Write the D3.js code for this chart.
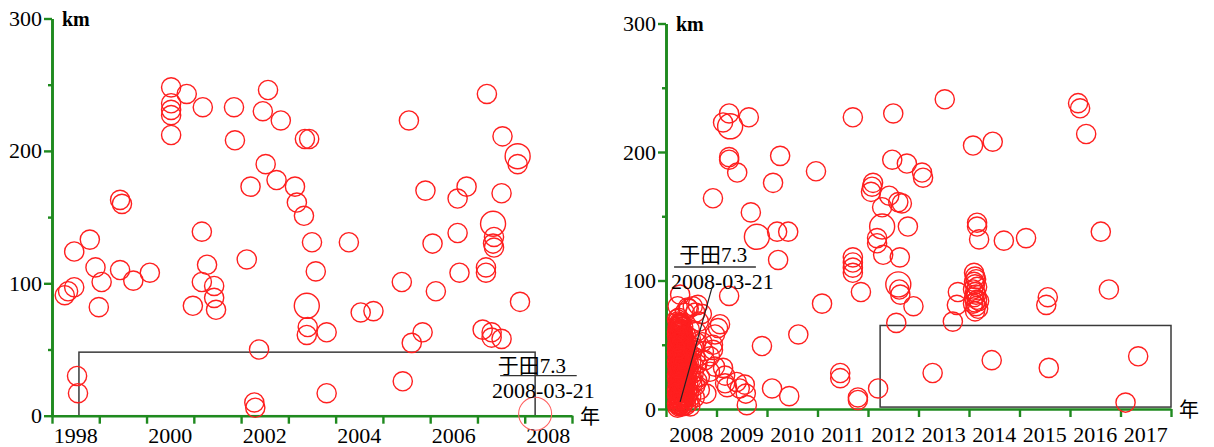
<!DOCTYPE html>
<html>
<head>
<meta charset="utf-8">
<script src="https://cdn.jsdelivr.net/npm/d3@7"></script>
<style>
  html, body { margin: 0; background: #fff; }
  svg { display: block; }
</style>
</head>
<body>
<svg id="chart" width="1214" height="447"></svg>
<script>
// ---- data -------------------------------------------------------------
// Depth axis (km)
const depthMajor = [0, 100, 200, 300];
const depthMinor = [50, 150, 250];

// Year ticks and labels
const leftTickYears  = [1998, 1999, 2000, 2001, 2002, 2003, 2004, 2005, 2006, 2007, 2008, 2009];
const leftLabelYears = [1998, 2000, 2002, 2004, 2006, 2008];
const rightTickYears  = [2008, 2009, 2010, 2011, 2012, 2013, 2014, 2015, 2016, 2017, 2018];
const rightLabelYears = [2008, 2009, 2010, 2011, 2012, 2013, 2014, 2015, 2016, 2017];

// Earthquakes 1998–2008: [decimal year, depth km, size class]
const leftQuakes = [
  [1998.27, 91, 1], [1998.34, 94, 1], [1998.47, 97, 1], [1998.47, 124, 1], [1998.80, 133, 1],
  [1998.92, 112, 1], [1999.05, 101, 1], [1998.99, 82, 1], [1999.44, 110, 1], [1999.44, 163, 1],
  [1999.48, 160, 1], [1999.72, 102, 1], [2000.07, 108, 1], [2000.52, 248, 1], [2000.52, 236, 1],
  [2000.52, 231, 1], [2000.52, 227, 1], [2000.52, 212, 1], [2000.85, 243, 1], [2001.19, 233, 1],
  [2001.85, 233, 1], [2001.87, 208, 1], [2001.17, 139, 1], [2001.28, 114, 1], [2001.17, 101, 1],
  [2001.43, 98, 1], [2001.43, 89, 1], [2001.47, 80, 1], [2000.98, 83, 1], [2002.12, 118, 1],
  [2002.38, 50, 1], [1998.53, 30, 1], [1998.55, 17, 1], [2002.28, 10, 1], [2002.30, 6, 1],
  [2002.46, 230, 1], [2002.57, 246, 1], [2002.84, 223, 1], [2003.35, 209, 1], [2003.44, 209, 1],
  [2002.52, 190, 1], [2002.75, 178, 1], [2002.20, 173, 1], [2003.14, 173, 1], [2003.18, 161, 1],
  [2003.33, 151, 1], [2003.50, 131, 1], [2004.28, 131, 1], [2003.58, 109, 1], [2003.39, 83, 2],
  [2003.41, 67, 1], [2003.39, 61, 1], [2003.81, 63, 1], [2004.53, 78, 1], [2004.80, 79, 1],
  [2003.81, 17, 1], [2005.42, 26, 1], [2005.40, 101, 1], [2005.61, 55, 1], [2005.84, 63, 1],
  [2005.55, 223, 1], [2005.90, 170, 1], [2006.05, 130, 1], [2006.12, 94, 1], [2006.58, 164, 1],
  [2006.77, 173, 1], [2006.58, 138, 1], [2006.62, 108, 1], [2007.20, 243, 1], [2007.53, 211, 1],
  [2007.85, 196, 2], [2007.85, 190, 1], [2007.51, 168, 1], [2007.33, 145, 2], [2007.35, 135, 1],
  [2007.33, 130, 1], [2007.35, 127, 1], [2007.18, 112, 1], [2007.18, 108, 1], [2007.90, 86, 1],
  [2007.11, 65, 1], [2007.30, 63, 1], [2007.51, 58, 1], [2007.30, 59, 1]
];
// Yutian M7.3 main shock, 2008-03-21
const mainShock = [2008.22, 1.5, 3];

// Earthquakes 2008–2017 away from the aftershock zone
const rightQuakes = [
  [2009.13, 223, 1], [2009.27, 220, 2], [2009.25, 230, 1], [2009.64, 227, 1], [2011.70, 227, 1],
  [2012.50, 230, 1], [2009.25, 196, 1], [2009.25, 194, 1], [2009.41, 184, 1], [2010.26, 197, 1],
  [2010.97, 185, 1], [2010.12, 176, 1], [2008.93, 164, 1], [2009.68, 153, 1], [2012.48, 194, 1],
  [2012.77, 191, 1], [2012.10, 176, 1], [2012.08, 173, 1], [2012.06, 169, 1], [2012.42, 166, 1],
  [2012.60, 161, 1], [2012.28, 157, 1], [2012.28, 142, 2], [2012.79, 142, 1], [2012.18, 133, 1],
  [2012.18, 129, 1], [2012.30, 120, 1], [2012.63, 118, 1], [2011.70, 118, 1], [2011.70, 114, 1],
  [2011.70, 110, 1], [2011.70, 106, 1], [2011.86, 91, 1], [2012.60, 97, 2], [2012.62, 93, 1],
  [2012.64, 89, 1], [2012.90, 80, 1], [2012.56, 67, 1], [2013.07, 184, 1], [2013.09, 180, 1],
  [2012.67, 160, 1], [2013.52, 241, 1], [2016.16, 238, 1], [2016.20, 234, 1], [2016.32, 214, 1],
  [2014.08, 205, 1], [2014.47, 208, 1], [2014.16, 145, 1], [2014.16, 142, 1], [2014.20, 132, 1],
  [2014.69, 131, 1], [2015.13, 133, 1], [2016.61, 138, 1], [2015.56, 87, 1], [2015.53, 81, 1],
  [2016.77, 93, 1], [2013.28, 28, 1], [2014.45, 38, 1], [2015.58, 32, 1], [2017.35, 41, 1],
  [2017.10, 5, 1], [2012.20, 16, 1], [2009.80, 134, 2], [2010.20, 138, 1], [2010.42, 138, 1],
  [2010.22, 116, 1], [2011.09, 82, 1], [2009.25, 88, 1], [2010.62, 58, 1], [2009.90, 49, 1],
  [2011.45, 28, 1], [2011.45, 24, 1], [2010.10, 16, 1], [2010.44, 10, 1], [2011.80, 9, 1],
  [2011.80, 7, 1],
  // 2013–2014 swarm
  [2014.10, 106, 1], [2014.12, 103, 1], [2014.14, 101, 1], [2014.10, 99, 1], [2014.12, 97, 1],
  [2014.16, 95, 1], [2014.08, 93, 1], [2014.12, 91, 1], [2014.14, 89, 1], [2014.10, 87, 1],
  [2014.16, 85, 1], [2014.12, 83, 1], [2014.08, 82, 1], [2014.14, 80, 1], [2014.18, 78, 1],
  [2014.12, 76, 1], [2014.20, 84, 1], [2013.78, 91, 1], [2013.76, 81, 1], [2013.68, 68, 1],
  // shallow events in 2009
  [2009.17, 26, 1], [2009.17, 20, 1], [2009.56, 19, 1], [2009.58, 12, 1], [2009.60, 3, 1],
  [2009.46, 16, 1], [2009.40, 21, 1]
];

// Yutian aftershock sequence, 2008
const aftershocks = [
  [2008.22, 4], [2008.23, 9], [2008.22, 15], [2008.24, 21], [2008.22, 27], [2008.23, 33],
  [2008.22, 38], [2008.24, 45], [2008.23, 51], [2008.22, 57], [2008.24, 63], [2008.23, 68],
  [2008.26, 2], [2008.27, 7], [2008.25, 12], [2008.27, 18], [2008.26, 24], [2008.28, 30],
  [2008.26, 36], [2008.27, 41], [2008.25, 47], [2008.28, 53], [2008.26, 59], [2008.27, 65],
  [2008.25, 71], [2008.29, 5], [2008.31, 10], [2008.30, 16], [2008.29, 22], [2008.31, 27],
  [2008.30, 33], [2008.29, 39], [2008.31, 44], [2008.30, 50], [2008.29, 56], [2008.31, 61],
  [2008.30, 67], [2008.33, 3], [2008.34, 8], [2008.33, 14], [2008.35, 19], [2008.33, 25],
  [2008.34, 31], [2008.35, 36], [2008.33, 42], [2008.34, 48], [2008.35, 54], [2008.33, 60],
  [2008.37, 6], [2008.38, 12], [2008.36, 17], [2008.38, 23], [2008.37, 29], [2008.39, 34],
  [2008.37, 40], [2008.38, 46], [2008.36, 52], [2008.39, 58], [2008.41, 9], [2008.42, 15],
  [2008.40, 21], [2008.42, 27], [2008.41, 33], [2008.43, 39], [2008.41, 45], [2008.42, 51],
  [2008.45, 5], [2008.46, 13], [2008.44, 20], [2008.47, 28], [2008.45, 36], [2008.46, 44],
  [2008.24, 6], [2008.28, 13], [2008.32, 20], [2008.25, 26], [2008.29, 35], [2008.23, 42],
  [2008.32, 47], [2008.26, 54], [2008.30, 58], [2008.24, 61], [2008.28, 66], [2008.34, 64],
  [2008.27, 3], [2008.36, 26], [2008.31, 38], [2008.40, 3], [2008.44, 31], [2008.39, 50],
  [2008.22, 49], [2008.35, 11],
  [2008.23, 1], [2008.25, 8], [2008.22, 11], [2008.26, 15], [2008.23, 19], [2008.25, 23],
  [2008.22, 24], [2008.24, 29], [2008.23, 30], [2008.25, 34], [2008.22, 35], [2008.24, 39],
  [2008.26, 43], [2008.22, 44], [2008.25, 50], [2008.23, 54], [2008.24, 56], [2008.22, 60],
  [2008.26, 62], [2008.23, 64], [2008.25, 66], [2008.22, 70], [2008.28, 4], [2008.30, 7],
  [2008.27, 10], [2008.29, 12], [2008.31, 14], [2008.28, 17], [2008.30, 20], [2008.27, 22],
  [2008.29, 25], [2008.31, 29], [2008.28, 32], [2008.30, 36], [2008.27, 37], [2008.29, 41],
  [2008.31, 42], [2008.28, 45], [2008.30, 47], [2008.27, 50], [2008.29, 52], [2008.31, 55],
  [2008.28, 58], [2008.30, 62], [2008.27, 60], [2008.29, 64], [2008.32, 2], [2008.34, 5],
  [2008.33, 10], [2008.35, 15], [2008.32, 17], [2008.34, 22], [2008.33, 28], [2008.35, 30],
  [2008.32, 33], [2008.34, 37], [2008.33, 39], [2008.35, 43], [2008.32, 44], [2008.34, 51],
  [2008.32, 53], [2008.35, 57], [2008.33, 56], [2008.36, 8], [2008.38, 16], [2008.37, 21],
  [2008.39, 27], [2008.36, 33], [2008.38, 37], [2008.37, 44], [2008.39, 48], [2008.36, 55],
  [2008.24, 13], [2008.26, 20], [2008.24, 32], [2008.26, 40], [2008.24, 52], [2008.26, 67],
  [2008.50, 10], [2008.52, 19], [2008.55, 28], [2008.50, 37], [2008.53, 46], [2008.49, 55],
  [2008.47, 62], [2008.58, 40], [2008.62, 22], [2008.60, 52],
  [2008.28, 89], [2008.53, 80], [2008.23, 80], [2008.37, 75], [2008.71, 74], [2009.07, 66],
  [2008.97, 58], [2008.93, 46], [2008.77, 38], [2008.87, 29], [2009.13, 32], [2009.21, 17],
  [2009.03, 63], [2008.93, 50], [2008.87, 41], [2008.97, 33], [2008.67, 25], [2008.67, 15],
  [2008.57, 9], [2008.65, 68], [2008.45, 78], [2008.60, 60], [2008.55, 48], [2008.62, 35],
  [2008.72, 52], [2008.50, 23], [2008.48, 2], [2008.58, 18], [2008.80, 12], [2008.75, 45],
  [2008.43, 79], [2008.63, 81], [2008.58, 75]
];

// Study boxes: [from year, to year, bottom km, top km]
const leftBox  = [1998.57, 2008.22, 0, 48];
const rightBox = [2012.24, 2018, 1.5, 65];

// Annotation text
const quakeName = "于田7.3";
const quakeDate = "2008-03-21";

// ---- drawing ----------------------------------------------------------
const svg = d3.select("#chart");
const GREEN = "#1f8a1f";
const RED = "#ff1f1f";
const SERIF = "'Liberation Serif', 'Times New Roman', serif";
const CJK = "'Liberation Serif', 'Noto Sans CJK SC', serif";

const radius = d3.scaleOrdinal().domain([1, 2, 3]).range([9.6, 12.5, 16.5]);

function panel(cfg) {
  const { x, y, tickYears, labelYears, labelBaseline } = cfg;
  const g = svg.append("g");
  const x0 = x.range()[0];
  const y0 = y.range()[0];

  // box
  g.append("rect")
    .attr("x", x(cfg.box[0]))
    .attr("y", y(cfg.box[3]))
    .attr("width", x(cfg.box[1]) - x(cfg.box[0]))
    .attr("height", y(cfg.box[2]) - y(cfg.box[3]))
    .attr("fill", "none")
    .attr("stroke", "#3a3a3a")
    .attr("stroke-width", 1.5);

  // y axis: major ticks with labels, minor ticks without
  const yMajor = g.append("g").attr("transform", `translate(${x0},0)`)
    .call(d3.axisLeft(y).tickValues(depthMajor).tickSize(8).tickSizeOuter(0)
      .tickPadding(2).tickFormat(d3.format("d")));
  const yMinor = g.append("g").attr("transform", `translate(${x0},0)`)
    .call(d3.axisLeft(y).tickValues(depthMinor).tickSize(4).tickSizeOuter(0).tickFormat(""));

  // x axis
  const xAx = g.append("g").attr("transform", `translate(0,${y0})`)
    .call(d3.axisBottom(x).tickValues(tickYears).tickSize(8).tickSizeOuter(0).tickFormat(""));

  [yMajor, yMinor, xAx].forEach(a => {
    a.selectAll(".domain").attr("stroke", GREEN).attr("stroke-width", 2.6);
    a.selectAll(".tick line").attr("stroke", GREEN).attr("stroke-width", 2.4);
  });
  yMajor.selectAll(".tick text")
    .attr("fill", "#000")
    .style("font-family", SERIF)
    .style("font-size", "22px");

  // year labels centred within each year
  g.append("g").selectAll("text").data(labelYears).join("text")
    .attr("x", d => x(d + 0.5))
    .attr("y", labelBaseline)
    .attr("text-anchor", "middle")
    .style("font-family", SERIF)
    .style("font-size", "22px")
    .text(d => d);

  // unit labels
  g.append("text")
    .attr("x", x0 + 10).attr("y", y(300) + 7)
    .style("font-family", SERIF).style("font-size", "20px").style("font-weight", "bold")
    .text("km");
  g.append("text")
    .attr("x", x.range()[1] + 8).attr("y", y0 + cfg.yearUnitDy)
    .style("font-family", "'Noto Sans CJK SC', sans-serif").style("font-size", "20px")
    .text("年");

  return g;
}

function circles(g, x, y, data, stroke, width) {
  g.append("g").selectAll("circle").data(data).join("circle")
    .attr("cx", d => x(d[0]))
    .attr("cy", d => y(d[1]))
    .attr("r", d => radius(d[2] || 1))
    .attr("fill", "none")
    .attr("stroke", stroke)
    .attr("stroke-width", width);
}

function annotation(g, x, y, a) {
  g.append("text")
    .attr("x", x(a.name[0])).attr("y", y(a.name[1]))
    .style("font-family", CJK).style("font-size", "21px")
    .text(quakeName);
  g.append("line")
    .attr("x1", x(a.rule[0])).attr("x2", x(a.rule[1]))
    .attr("y1", y(a.rule[2])).attr("y2", y(a.rule[2]))
    .attr("stroke", "#333").attr("stroke-width", 1.3);
  g.append("text")
    .attr("x", x(a.date[0])).attr("y", y(a.date[1]))
    .style("font-family", SERIF).style("font-size", "22px")
    .text(quakeDate);
  if (a.leader) {
    g.append("line")
      .attr("x1", x(a.leader[0])).attr("y1", y(a.leader[1]))
      .attr("x2", x(a.leader[2])).attr("y2", y(a.leader[3]))
      .attr("stroke", "#222").attr("stroke-width", 1.2);
  }
}

// left panel: 1998–2008
const xL = d3.scaleLinear().domain([1998, 2009]).range([52, 572]);
const yL = d3.scaleLinear().domain([0, 300]).range([415.7, 18.5]);
const gL = panel({ x: xL, y: yL, tickYears: leftTickYears, labelYears: leftLabelYears,
                   labelBaseline: 443, box: leftBox, yearUnitDy: 8 });
circles(gL, xL, yL, leftQuakes, RED, 1.4);
circles(gL, xL, yL, [mainShock], "#ff6060", 1.1);
annotation(gL, xL, yL, {
  name: [2007.43, 32.3], rule: [2007.48, 2009.1, 30.2], date: [2007.31, 13.4]
});

// right panel: 2008–2017
const xR = d3.scaleLinear().domain([2008, 2018]).range([666, 1171]);
const yR = d3.scaleLinear().domain([0, 300]).range([409, 23.5]);
const gR = panel({ x: xR, y: yR, tickYears: rightTickYears, labelYears: rightLabelYears,
                   labelBaseline: 442, box: rightBox, yearUnitDy: 8 });
circles(gR, xR, yR, aftershocks, RED, 1.4);
circles(gR, xR, yR, rightQuakes, RED, 1.4);
annotation(gR, xR, yR, {
  name: [2008.26, 114.4], rule: [2008.16, 2009.78, 110.5], date: [2008.10, 93.4],
  leader: [2008.91, 94.5, 2008.28, 5.5]
});
</script>
</body>
</html>
